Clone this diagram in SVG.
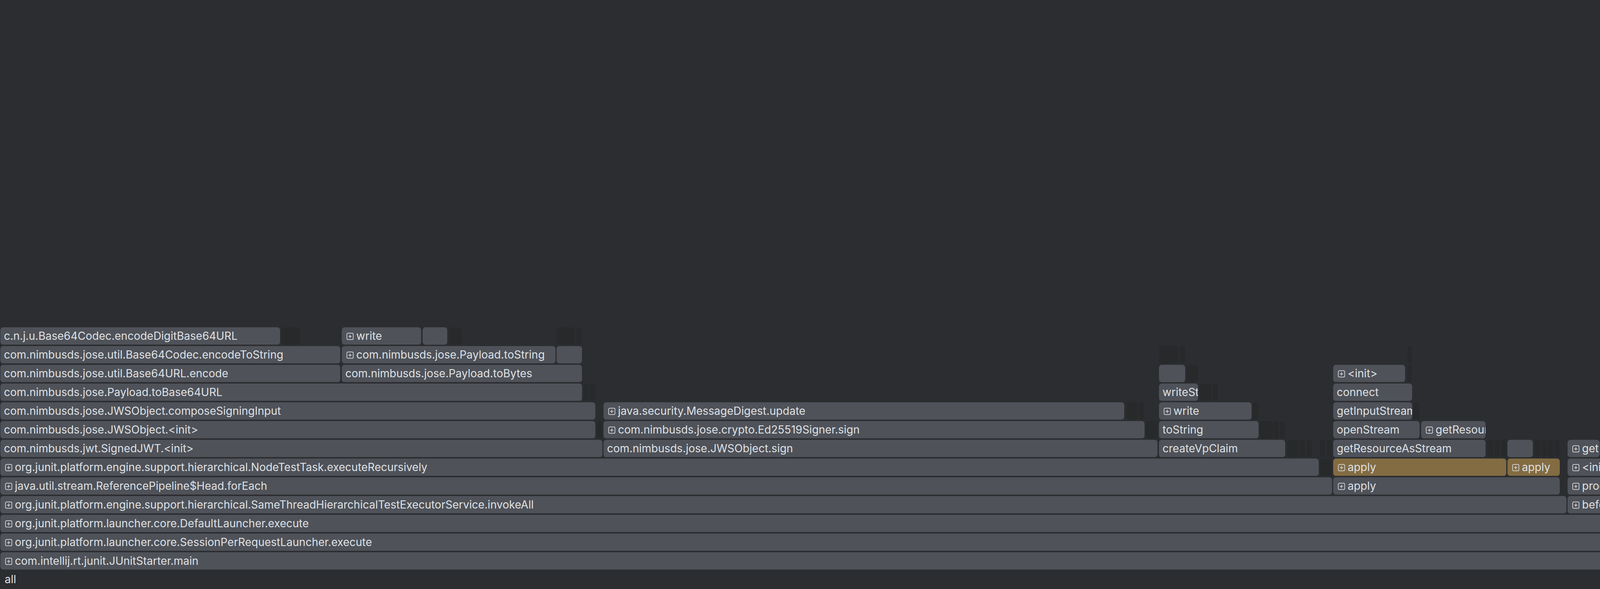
<svg xmlns="http://www.w3.org/2000/svg" xmlns:xlink="http://www.w3.org/1999/xlink" width="5296" height="1508" viewBox="0 0 5296 1508">
<style>
.b{fill:#4f5259}
.g{fill:#836c42}
.d{fill:#28292b}
text{font-family:Inter,"Noto Sans","Liberation Sans",sans-serif;font-size:28px;fill:#dfe1e5}
</style>
<defs>
<g id="pl"><rect x="0.85" y="0.85" width="16.3" height="16.3" rx="3" fill="none" stroke="#d6d8dc" stroke-width="1.7"/><path d="M9 4.8v8.4M4.8 9h8.4" stroke="#d6d8dc" stroke-width="1.7" fill="none"/></g>
</defs>
<rect width="5296" height="1508" fill="#2b2d30"/>
<g id="connectors"/>
<g id="frames">
<g id="f-main"><svg x="1" y="1414" width="5158" height="44.5"><rect class="b" width="5158" height="44.5" rx="7"/><use href="#pl" x="12.2" y="14.3"/><text x="37" y="31.6">com.intellij.rt.junit.JUnitStarter.main</text></svg></g>
<g id="f-star1"><svg x="5165" y="1414" width="62" height="44.5"><rect class="b" width="62" height="44.5" rx="7"/><text x="9" y="31.6">star</text></svg></g>
<g id="f-session"><svg x="1" y="1366" width="4438" height="44.5"><rect class="b" width="4438" height="44.5" rx="7"/><use href="#pl" x="12.2" y="14.3"/><text x="37" y="31.6">org.junit.platform.launcher.core.SessionPerRequestLauncher.execute</text></svg></g>
<g id="f-buildRequest"><svg x="4443" y="1366" width="680" height="44.5"><rect class="b" width="680" height="44.5" rx="7"/><text x="9" y="31.6">c.i.j.JUnit5TestRunnerUtil.buildRequest</text></svg></g>
<g id="f-star2"><svg x="5165" y="1366" width="62" height="44.5"><rect class="b" width="62" height="44.5" rx="7"/><text x="9" y="31.6">star</text></svg></g>
<g id="f-default"><svg x="1" y="1318" width="4334" height="44.5"><rect class="b" width="4334" height="44.5" rx="7"/><use href="#pl" x="12.2" y="14.3"/><text x="37" y="31.6">org.junit.platform.launcher.core.DefaultLauncher.execute</text></svg></g>
<g id="f-disc"><svg x="4340" y="1318" width="82" height="44.5"><rect class="b" width="82" height="44.5" rx="7"/><use href="#pl" x="12.2" y="14.3"/><text x="37" y="31.6">disc</text></svg></g>
<g id="f-loadMethod"><svg x="4443" y="1318" width="664" height="44.5"><rect class="b" width="664" height="44.5" rx="7"/><text x="9" y="31.6">JUnit5TestRunnerUtil.loadMethodByReflection</text></svg></g>
<g id="f-invokeAll"><svg x="1" y="1270" width="4009" height="44.5"><rect class="b" width="4009" height="44.5" rx="7"/><use href="#pl" x="12.2" y="14.3"/><text x="37" y="31.6">org.junit.platform.engine.support.hierarchical.SameThreadHierarchicalTestExecutorService.invokeAll</text></svg></g>
<g id="f-before"><svg x="4013" y="1270" width="270" height="44.5"><rect class="b" width="270" height="44.5" rx="7"/><use href="#pl" x="12.2" y="14.3"/><text x="37" y="31.6">before</text></svg></g>
<g id="f-forName"><svg x="4443" y="1270" width="646" height="44.5"><rect class="b" width="646" height="44.5" rx="7"/><use href="#pl" x="12.2" y="14.3"/><text x="37" y="31.6">java.lang.Class.forName</text></svg></g>
<g id="f-forEach"><svg x="1" y="1222" width="3409" height="44.5"><rect class="b" width="3409" height="44.5" rx="7"/><use href="#pl" x="12.2" y="14.3"/><text x="37" y="31.6">java.util.stream.ReferencePipeline$Head.forEach</text></svg></g>
<g id="f-apply3"><svg x="3413" y="1222" width="580" height="44.5"><rect class="b" width="580" height="44.5" rx="7"/><use href="#pl" x="12.2" y="14.3"/><text x="37" y="31.6">apply</text></svg></g>
<g id="f-proceed"><svg x="4013" y="1222" width="254" height="44.5"><rect class="b" width="254" height="44.5" rx="7"/><use href="#pl" x="12.2" y="14.3"/><text x="37" y="31.6">proceed</text></svg></g>
<g id="f-mockito"><svg x="4443" y="1222" width="372" height="44.5"><rect class="b" width="372" height="44.5" rx="7"/><use href="#pl" x="12.2" y="14.3"/><text x="37" y="31.6">o.m.Mockito.&lt;clinit&gt;</text></svg></g>
<g id="f-createObject"><svg x="4819" y="1222" width="184" height="44.5"><rect class="b" width="184" height="44.5" rx="7"/><text x="9" y="31.6">createObject</text></svg></g>
<g id="f-r1222a"><rect class="b" x="5007" y="1222" width="65" height="44.5" rx="7"/></g>
<g id="f-executeRecursively"><svg x="1" y="1174" width="3375" height="44.5"><rect class="b" width="3375" height="44.5" rx="7"/><use href="#pl" x="12.2" y="14.3"/><text x="37" y="31.6">org.junit.platform.engine.support.hierarchical.NodeTestTask.executeRecursively</text></svg></g>
<g id="f-apply1"><svg x="3413" y="1174" width="443" height="44.5"><rect class="g" width="443" height="44.5" rx="7"/><use href="#pl" x="12.2" y="14.3"/><text x="37" y="31.6">apply</text></svg></g>
<g id="f-apply2"><svg x="3859" y="1174" width="134" height="44.5"><rect class="g" width="134" height="44.5" rx="7"/><use href="#pl" x="12.2" y="14.3"/><text x="37" y="31.6">apply</text></svg></g>
<g id="f-init-mid"><svg x="4013" y="1174" width="117" height="44.5"><rect class="b" width="117" height="44.5" rx="7"/><use href="#pl" x="12.2" y="14.3"/><text x="37" y="31.6">&lt;init&gt;</text></svg></g>
<g id="f-crea"><svg x="4134" y="1174" width="81" height="44.5"><rect class="g" width="81" height="44.5" rx="7"/><use href="#pl" x="12.2" y="14.3"/><text x="37" y="31.6">crea</text></svg></g>
<g id="f-init-r1"><svg x="4443" y="1174" width="356" height="44.5"><rect class="b" width="356" height="44.5" rx="7"/><text x="9" y="31.6">&lt;init&gt;</text></svg></g>
<g id="f-r1174a"><rect class="b" x="4819" y="1174" width="65" height="44.5" rx="7"/></g>
<g id="f-signedJWT"><svg x="1" y="1126" width="1541" height="44.5"><rect class="b" width="1541" height="44.5" rx="7"/><text x="9" y="31.6">com.nimbusds.jwt.SignedJWT.&lt;init&gt;</text></svg></g>
<g id="f-jwsSign"><svg x="1545" y="1126" width="1418" height="44.5"><rect class="b" width="1418" height="44.5" rx="7"/><text x="9" y="31.6">com.nimbusds.jose.JWSObject.sign</text></svg></g>
<g id="f-createVpClaim"><svg x="2967" y="1126" width="323" height="44.5"><rect class="b" width="323" height="44.5" rx="7"/><text x="9" y="31.6">createVpClaim</text></svg></g>
<g id="f-getResourceAsStream"><svg x="3413" y="1126" width="390" height="44.5"><rect class="b" width="390" height="44.5" rx="7"/><text x="9" y="31.6">getResourceAsStream</text></svg></g>
<g id="f-r1126a"><rect class="b" x="3859" y="1126" width="65" height="44.5" rx="7"/></g>
<g id="f-get"><svg x="4013" y="1126" width="82" height="44.5"><rect class="b" width="82" height="44.5" rx="7"/><use href="#pl" x="12.2" y="14.3"/><text x="37" y="31.6">get</text></svg></g>
<g id="f-r1126b"><rect class="b" x="4134" y="1126" width="65" height="44.5" rx="7"/></g>
<g id="f-init-r2"><svg x="4443" y="1126" width="286" height="44.5"><rect class="b" width="286" height="44.5" rx="7"/><text x="9" y="31.6">&lt;init&gt;</text></svg></g>
<g id="f-clin"><svg x="4733" y="1126" width="66" height="44.5"><rect class="b" width="66" height="44.5" rx="7"/><text x="9" y="31.6">&lt;clin</text></svg></g>
<g id="f-jwsInit"><svg x="1" y="1078" width="1523" height="44.5"><rect class="b" width="1523" height="44.5" rx="7"/><text x="9" y="31.6">com.nimbusds.jose.JWSObject.&lt;init&gt;</text></svg></g>
<g id="f-ed25519"><svg x="1545" y="1078" width="1385" height="44.5"><rect class="b" width="1385" height="44.5" rx="7"/><use href="#pl" x="12.2" y="14.3"/><text x="37" y="31.6">com.nimbusds.jose.crypto.Ed25519Signer.sign</text></svg></g>
<g id="f-toString"><svg x="2967" y="1078" width="255" height="44.5"><rect class="b" width="255" height="44.5" rx="7"/><text x="9" y="31.6">toString</text></svg></g>
<g id="f-openStream"><svg x="3413" y="1078" width="221" height="44.5"><rect class="b" width="221" height="44.5" rx="7"/><text x="9" y="31.6">openStream</text></svg></g>
<g id="f-getResour"><svg x="3638" y="1078" width="165" height="44.5"><rect class="b" width="165" height="44.5" rx="7"/><use href="#pl" x="12.2" y="14.3"/><text x="37" y="31.6">getResour</text></svg></g>
<g id="f-init-r3"><svg x="4443" y="1078" width="286" height="44.5"><rect class="b" width="286" height="44.5" rx="7"/><text x="9" y="31.6">&lt;init&gt;</text></svg></g>
<g id="f-composeSigningInput"><svg x="1" y="1030" width="1523" height="44.5"><rect class="b" width="1523" height="44.5" rx="7"/><text x="9" y="31.6">com.nimbusds.jose.JWSObject.composeSigningInput</text></svg></g>
<g id="f-digestUpdate"><svg x="1545" y="1030" width="1333" height="44.5"><rect class="b" width="1333" height="44.5" rx="7"/><use href="#pl" x="12.2" y="14.3"/><text x="37" y="31.6">java.security.MessageDigest.update</text></svg></g>
<g id="f-write2"><svg x="2967" y="1030" width="237" height="44.5"><rect class="b" width="237" height="44.5" rx="7"/><use href="#pl" x="12.2" y="14.3"/><text x="37" y="31.6">write</text></svg></g>
<g id="f-getInputStream"><svg x="3413" y="1030" width="202" height="44.5"><rect class="b" width="202" height="44.5" rx="7"/><text x="9" y="31.6">getInputStream</text></svg></g>
<g id="f-init-r4"><svg x="4443" y="1030" width="150" height="44.5"><rect class="b" width="150" height="44.5" rx="7"/><use href="#pl" x="12.2" y="14.3"/><text x="37" y="31.6">&lt;init&gt;</text></svg></g>
<g id="f-toBase64URL"><svg x="1" y="982" width="1489" height="44.5"><rect class="b" width="1489" height="44.5" rx="7"/><text x="9" y="31.6">com.nimbusds.jose.Payload.toBase64URL</text></svg></g>
<g id="f-writeSt"><svg x="2967" y="982" width="100" height="44.5"><rect class="b" width="100" height="44.5" rx="7"/><text x="9" y="31.6">writeSt</text></svg></g>
<g id="f-connect"><svg x="3413" y="982" width="202" height="44.5"><rect class="b" width="202" height="44.5" rx="7"/><text x="9" y="31.6">connect</text></svg></g>
<g id="f-clinit"><svg x="4443" y="982" width="116" height="44.5"><rect class="b" width="116" height="44.5" rx="7"/><use href="#pl" x="12.2" y="14.3"/><text x="37" y="31.6">&lt;clinit</text></svg></g>
<g id="f-base64urlEncode"><svg x="1" y="934" width="870" height="44.5"><rect class="b" width="870" height="44.5" rx="7"/><text x="9" y="31.6">com.nimbusds.jose.util.Base64URL.encode</text></svg></g>
<g id="f-toBytes"><svg x="875" y="934" width="615" height="44.5"><rect class="b" width="615" height="44.5" rx="7"/><text x="9" y="31.6">com.nimbusds.jose.Payload.toBytes</text></svg></g>
<g id="f-r934a"><rect class="b" x="2967" y="934" width="67" height="44.5" rx="7"/></g>
<g id="f-init-mid2"><svg x="3413" y="934" width="184" height="44.5"><rect class="b" width="184" height="44.5" rx="7"/><use href="#pl" x="12.2" y="14.3"/><text x="37" y="31.6">&lt;init&gt;</text></svg></g>
<g id="f-run1"><svg x="4443" y="934" width="98" height="44.5"><rect class="b" width="98" height="44.5" rx="7"/><text x="9" y="31.6">run</text></svg></g>
<g id="f-encodeToString"><svg x="1" y="886" width="870" height="44.5"><rect class="b" width="870" height="44.5" rx="7"/><text x="9" y="31.6">com.nimbusds.jose.util.Base64Codec.encodeToString</text></svg></g>
<g id="f-payloadToString"><svg x="875" y="886" width="547" height="44.5"><rect class="b" width="547" height="44.5" rx="7"/><use href="#pl" x="12.2" y="14.3"/><text x="37" y="31.6">com.nimbusds.jose.Payload.toString</text></svg></g>
<g id="f-r886a"><rect class="b" x="1425" y="886" width="65" height="44.5" rx="7"/></g>
<g id="f-run2"><svg x="4443" y="886" width="98" height="44.5"><rect class="b" width="98" height="44.5" rx="7"/><text x="9" y="31.6">run</text></svg></g>
<g id="f-encodeDigit"><svg x="1" y="838" width="716" height="44.5"><rect class="b" width="716" height="44.5" rx="7"/><text x="9" y="31.6">c.n.j.u.Base64Codec.encodeDigitBase64URL</text></svg></g>
<g id="f-write1"><svg x="875" y="838" width="203" height="44.5"><rect class="b" width="203" height="44.5" rx="7"/><use href="#pl" x="12.2" y="14.3"/><text x="37" y="31.6">write</text></svg></g>
<g id="f-r838a"><rect class="b" x="1082" y="838" width="63" height="44.5" rx="7"/></g>
</g>
<g id="dimmed-frames" class="d">
<rect x="5233" y="1414" width="28" height="44.5" rx="7"/>
<rect x="5112" y="1318" width="11" height="44.5" rx="5.5"/>
<rect x="5165" y="1318" width="45" height="44.5" rx="7"/>
<rect x="5213" y="1318" width="14" height="44.5" rx="7"/>
<rect x="5093" y="1270" width="14" height="44.5" rx="7"/>
<rect x="5165" y="1270" width="27" height="44.5" rx="7"/>
<rect x="5198" y="1270" width="12" height="44.5" rx="6"/>
<rect x="4270" y="1222" width="13" height="44.5" rx="6.5"/>
<rect x="5077" y="1222" width="14" height="44.5" rx="7"/>
<rect x="5165" y="1222" width="10" height="44.5" rx="5"/>
<rect x="5178" y="1222" width="14" height="44.5" rx="7"/>
<rect x="3379" y="1174" width="31" height="44.5" rx="7"/>
<rect x="4219" y="1174" width="28" height="44.5" rx="7"/>
<rect x="4250" y="1174" width="16" height="44.5" rx="7"/>
<rect x="4803" y="1174" width="11" height="44.5" rx="5.5"/>
<rect x="4888" y="1174" width="46" height="44.5" rx="7"/>
<rect x="4937" y="1174" width="50" height="44.5" rx="7"/>
<rect x="4990" y="1174" width="13" height="44.5" rx="6.5"/>
<rect x="5007" y="1174" width="32" height="44.5" rx="7"/>
<rect x="5041" y="1174" width="15" height="44.5" rx="7"/>
<rect x="5058" y="1174" width="13" height="44.5" rx="6.5"/>
<rect x="3295" y="1126" width="29" height="44.5" rx="7"/>
<rect x="3327" y="1126" width="14" height="44.5" rx="7"/>
<rect x="3345" y="1126" width="13" height="44.5" rx="6.5"/>
<rect x="3379" y="1126" width="14" height="44.5" rx="7"/>
<rect x="3397" y="1126" width="13" height="44.5" rx="6.5"/>
<rect x="3808" y="1126" width="15" height="44.5" rx="7"/>
<rect x="3826" y="1126" width="13" height="44.5" rx="6.5"/>
<rect x="3843" y="1126" width="14" height="44.5" rx="7"/>
<rect x="3928" y="1126" width="15" height="44.5" rx="7"/>
<rect x="3946" y="1126" width="13" height="44.5" rx="6.5"/>
<rect x="3961" y="1126" width="16" height="44.5" rx="7"/>
<rect x="3979" y="1126" width="14" height="44.5" rx="7"/>
<rect x="4099" y="1126" width="15" height="44.5" rx="7"/>
<rect x="4117" y="1126" width="13" height="44.5" rx="6.5"/>
<rect x="4204" y="1126" width="12" height="44.5" rx="6"/>
<rect x="4219" y="1126" width="15" height="44.5" rx="7"/>
<rect x="4237" y="1126" width="12" height="44.5" rx="6"/>
<rect x="5007" y="1126" width="32" height="44.5" rx="7"/>
<rect x="5043" y="1126" width="11" height="44.5" rx="5.5"/>
<rect x="1528" y="1078" width="14" height="44.5" rx="7"/>
<rect x="2933" y="1078" width="31" height="44.5" rx="7"/>
<rect x="3225" y="1078" width="34" height="44.5" rx="7"/>
<rect x="3261" y="1078" width="13" height="44.5" rx="6.5"/>
<rect x="3277" y="1078" width="12" height="44.5" rx="6"/>
<rect x="4734" y="1078" width="29" height="44.5" rx="7"/>
<rect x="4766" y="1078" width="14" height="44.5" rx="7"/>
<rect x="4784" y="1078" width="15" height="44.5" rx="7"/>
<rect x="5007" y="1078" width="16" height="44.5" rx="7"/>
<rect x="5025" y="1078" width="14" height="44.5" rx="7"/>
<rect x="2884" y="1030" width="29" height="44.5" rx="7"/>
<rect x="2915" y="1030" width="14" height="44.5" rx="7"/>
<rect x="3207" y="1030" width="14" height="44.5" rx="7"/>
<rect x="3618" y="1030" width="16" height="44.5" rx="7"/>
<rect x="4597" y="1030" width="32" height="44.5" rx="7"/>
<rect x="4631" y="1030" width="32" height="44.5" rx="7"/>
<rect x="4666" y="1030" width="31" height="44.5" rx="7"/>
<rect x="4700" y="1030" width="14" height="44.5" rx="7"/>
<rect x="4717" y="1030" width="14" height="44.5" rx="7"/>
<rect x="4734" y="1030" width="14" height="44.5" rx="7"/>
<rect x="4750" y="1030" width="13" height="44.5" rx="6.5"/>
<rect x="1494" y="982" width="12" height="44.5" rx="6"/>
<rect x="1509" y="982" width="14" height="44.5" rx="7"/>
<rect x="3071" y="982" width="30" height="44.5" rx="7"/>
<rect x="3104" y="982" width="13" height="44.5" rx="6.5"/>
<rect x="4563" y="982" width="31" height="44.5" rx="7"/>
<rect x="4597" y="982" width="32" height="44.5" rx="7"/>
<rect x="4631" y="982" width="15" height="44.5" rx="7"/>
<rect x="4649" y="982" width="14" height="44.5" rx="7"/>
<rect x="4666" y="982" width="14" height="44.5" rx="7"/>
<rect x="4683" y="982" width="13" height="44.5" rx="6.5"/>
<rect x="3038" y="934" width="29" height="44.5" rx="7"/>
<rect x="3603" y="934" width="11" height="44.5" rx="5.5"/>
<rect x="4546" y="934" width="14" height="44.5" rx="7"/>
<rect x="4563" y="934" width="14" height="44.5" rx="7"/>
<rect x="4580" y="934" width="14" height="44.5" rx="7"/>
<rect x="4597" y="934" width="14" height="44.5" rx="7"/>
<rect x="4614" y="934" width="13" height="44.5" rx="6.5"/>
<rect x="4683" y="934" width="13" height="44.5" rx="6.5"/>
<rect x="2967" y="886" width="49" height="44.5" rx="7"/>
<rect x="3020" y="886" width="14" height="44.5" rx="7"/>
<rect x="3603" y="886" width="11" height="44.5" rx="5.5"/>
<rect x="720" y="838" width="48" height="44.5" rx="7"/>
<rect x="1150" y="838" width="32" height="44.5" rx="7"/>
<rect x="1426" y="838" width="45" height="44.5" rx="7"/>
<rect x="1476" y="838" width="13" height="44.5" rx="6.5"/>
<rect x="4443" y="838" width="47" height="44.5" rx="7"/>
<rect x="4493" y="838" width="31" height="44.5" rx="7"/>
<rect x="4527" y="838" width="15" height="44.5" rx="7"/>
<rect x="4443" y="790" width="47" height="44.5" rx="7"/>
<rect x="4493" y="790" width="15" height="44.5" rx="7"/>
<rect x="4511" y="790" width="13" height="44.5" rx="6.5"/>
<rect x="4443" y="742" width="31" height="44.5" rx="7"/>
<rect x="4477" y="742" width="13" height="44.5" rx="6.5"/>
<rect x="4443" y="694" width="31" height="44.5" rx="7"/>
<rect x="4443" y="646" width="13" height="44.5" rx="6.5"/>
<rect x="4459" y="646" width="15" height="44.5" rx="7"/>
</g>
<g id="root"><text x="12" y="1493">all</text></g>
</svg>
